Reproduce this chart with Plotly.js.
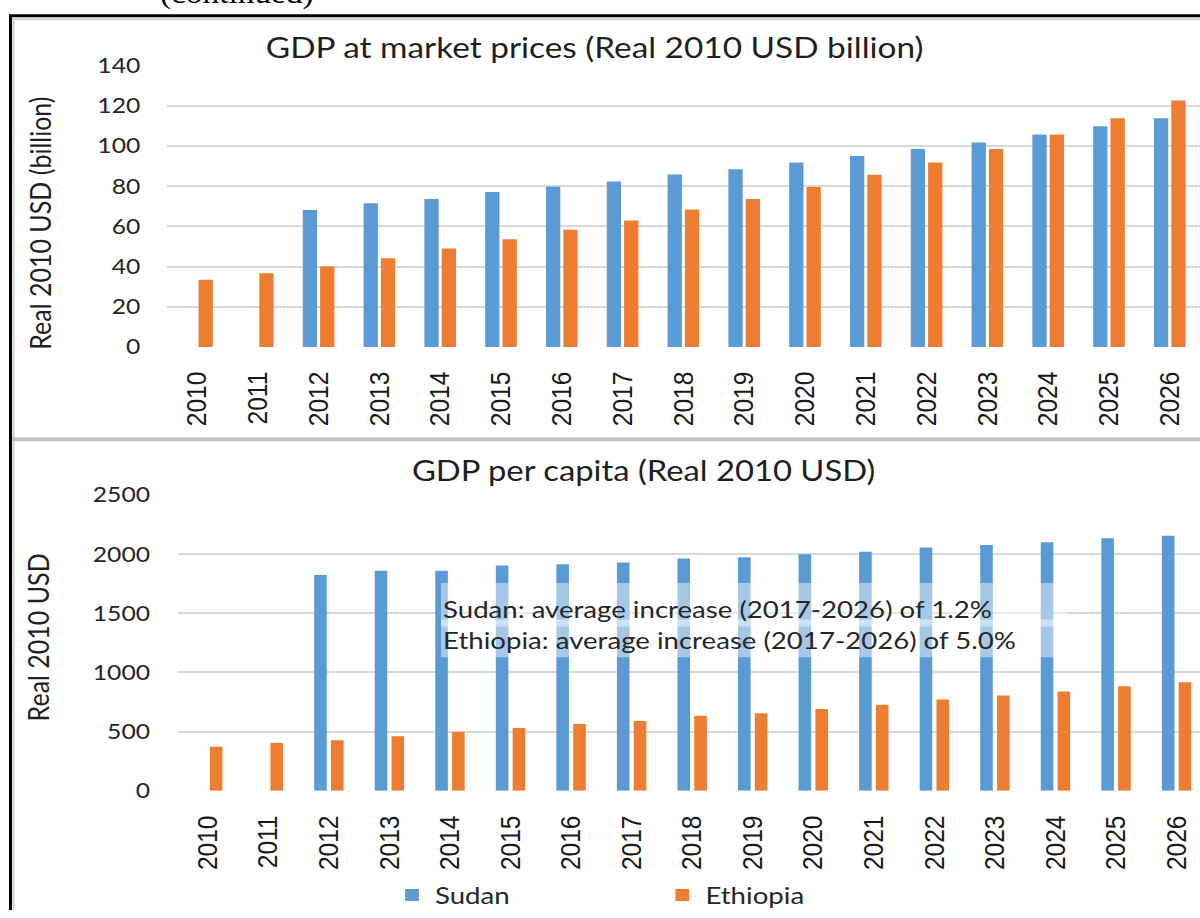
<!DOCTYPE html>
<html>
<head>
<meta charset="utf-8">
<script src="https://cdn.plot.ly/plotly-3.0.1.min.js"></script>
<style>
  html, body { margin: 0; padding: 0; background: #ffffff; overflow: hidden; }
  #wrap { width: 1200px; height: 918px; overflow: hidden; }
  /* the reference picture is horizontally stretched; reproduce that with a uniform x-scale */
  #chart { width: 1043px; height: 918px; transform: scaleX(1.15053); transform-origin: 0 0; }
</style>
</head>
<body>
<div id="wrap"><div id="chart"></div></div>
<script>
// ---- data ----
var years = [2010, 2011, 2012, 2013, 2014, 2015, 2016, 2017, 2018, 2019, 2020, 2021, 2022, 2023, 2024, 2025, 2026];
var yearLabels = ["2010","2011","2012","2013","2014","2015","2016","2017","2018","2019","2020","2021","2022","2023","2024","2025","2026"];
var sudanGdp    = [null, null, 68.1, 71.4, 73.6, 77.0, 79.7, 82.3, 85.8, 88.4, 91.7, 95.0, 98.4, 101.7, 105.7, 109.8, 113.7];
var ethiopiaGdp = [33.4, 36.7, 40.0, 44.1, 48.9, 53.5, 58.3, 62.9, 68.3, 73.6, 79.5, 85.6, 91.7, 98.4, 105.7, 113.7, 122.5];
var sudanPc     = [null, null, 1823, 1860, 1860, 1904, 1915, 1929, 1963, 1974, 1999, 2021, 2055, 2077, 2100, 2133, 2156];
var ethiopiaPc  = [372, 405, 427, 461, 497, 531, 564, 589, 634, 656, 690, 726, 771, 804, 838, 883, 916];
var seriesNames = ["Sudan", "Ethiopia"];
var titleTop = "GDP at market prices (Real 2010 USD billion)";
var titleBottom = "GDP per capita (Real 2010 USD)";
var yTitleTop = "Real 2010 USD (billion)";
var yTitleBottom = "Real 2010 USD";
var noteSudan = "Sudan: average increase (2017-2026) of 1.2%";
var noteEthiopia = "Ethiopia: average increase (2017-2026) of 5.0%";
var headerText = "(continued)";

// ---- styling ----
var W = 1200, H = 918;          // final picture size
var S = 1200 / 1043;            // horizontal stretch of the picture
var PW = 1043;                  // plot width before stretch
function px(x) { return x / W; }
function py(y) { return 1 - y / H; }
var BLUE = "#5B9BD5", ORANGE = "#ED7D31";
var FONT = "Lato, 'Open Sans', sans-serif";
var GRID = "#D9D9D9";

var traces = [
  { type: "bar", name: seriesNames[0], x: years, y: sudanGdp, xaxis: "x", yaxis: "y",
    marker: { color: BLUE }, width: 0.235, offset: -0.26, legendgroup: "s" },
  { type: "bar", name: seriesNames[1], x: years, y: ethiopiaGdp, xaxis: "x", yaxis: "y",
    marker: { color: ORANGE }, width: 0.235, offset: 0.025, legendgroup: "e" },
  { type: "bar", name: seriesNames[0], x: years, y: sudanPc, xaxis: "x2", yaxis: "y2",
    marker: { color: BLUE }, width: 0.208, offset: -0.243, legendgroup: "s", showlegend: false },
  { type: "bar", name: seriesNames[1], x: years, y: ethiopiaPc, xaxis: "x2", yaxis: "y2",
    marker: { color: ORANGE }, width: 0.208, offset: 0.035, legendgroup: "e", showlegend: false }
];

var xTickFont = { family: "'Liberation Sans', Arial, sans-serif", size: 24.5, color: "#1a1a1a" };
var yTickFont = { family: FONT, size: 21.5, color: "#262626" };

function xAxis(domain, range, anchor) {
  return {
    domain: domain, range: range, anchor: anchor, type: "linear",
    tickmode: "array", tickvals: years, ticktext: yearLabels, tickangle: -90,
    tickfont: xTickFont, ticks: "outside", ticklen: 14, tickcolor: "rgba(0,0,0,0)",
    showgrid: false, zeroline: false, showline: false, fixedrange: true, automargin: false
  };
}
function yAxis(domain, range, dtick, anchor, standoff) {
  return {
    domain: domain, range: range, anchor: anchor, dtick: dtick, tick0: 0,
    tickfont: yTickFont, ticks: "outside", ticklen: standoff, tickcolor: "rgba(0,0,0,0)",
    showgrid: true, gridcolor: GRID, gridwidth: 2, zeroline: false, showline: false,
    fixedrange: true, automargin: false
  };
}

var layout = {
  width: PW, height: H,
  margin: { l: 0, r: 0, t: 0, b: 0, pad: 0 },
  paper_bgcolor: "#ffffff", plot_bgcolor: "rgba(0,0,0,0)",
  font: { family: FONT, color: "#262626" },
  barmode: "group",
  xaxis: xAxis([px(166.6), 1], [2009.5, 2026.497], "y"),
  yaxis: yAxis([py(350), py(66)], [0, 140], 20, "x", 17.5),
  xaxis2: xAxis([px(177.5), 1], [2009.5, 2026.387], "y2"),
  yaxis2: yAxis([py(797.7), py(499.3)], [0, 2500], 500, "x2", 18.5),
  showlegend: true,
  legend: {
    orientation: "h", x: px(389), xanchor: "left", y: py(903.5), yanchor: "middle",
    font: { family: FONT, size: 24, color: "#262626" },
    entrywidth: 190, entrywidthmode: "pixels", bgcolor: "rgba(0,0,0,0)",
    traceorder: "normal"
  },
  annotations: [
    { text: headerText, xref: "paper", yref: "paper", x: px(237), y: py(12), xanchor: "center", yanchor: "bottom",
      showarrow: false, font: { family: "'Liberation Serif', 'Times New Roman', serif", size: 29, color: "#000" } },
    { text: titleTop, xref: "paper", yref: "paper", x: px(595), y: py(47), xanchor: "center", yanchor: "middle",
      showarrow: false, font: { family: FONT, size: 29, color: "#1f1f1f" } },
    { text: titleBottom, xref: "paper", yref: "paper", x: px(644), y: py(474), xanchor: "center", yanchor: "middle",
      showarrow: false, font: { family: FONT, size: 28.5, color: "#1f1f1f" } },
    { text: yTitleTop, xref: "paper", yref: "paper", x: px(40), y: py(225), xanchor: "center", yanchor: "middle",
      textangle: -90, showarrow: false, font: { family: FONT, size: 25, color: "#1f1f1f" } },
    { text: yTitleBottom, xref: "paper", yref: "paper", x: px(38), y: py(643), xanchor: "center", yanchor: "middle",
      textangle: -90, showarrow: false, font: { family: FONT, size: 25, color: "#1f1f1f" } },
    { text: noteSudan, xref: "paper", yref: "paper", x: px(441), y: py(614), xanchor: "left", yanchor: "middle",
      showarrow: false, font: { family: FONT, size: 24, color: "#262626" } },
    { text: noteEthiopia, xref: "paper", yref: "paper", x: px(441), y: py(645), xanchor: "left", yanchor: "middle",
      showarrow: false, font: { family: FONT, size: 24, color: "#262626" } }
  ],
  shapes: [
    // semi-transparent note boxes
    { type: "rect", xref: "paper", yref: "paper", x0: px(441), x1: px(1066), y0: py(632), y1: py(588),
      fillcolor: "rgba(255,255,255,0.45)", line: { width: 0 }, layer: "above" },
    { type: "rect", xref: "paper", yref: "paper", x0: px(441), x1: px(1066), y0: py(663), y1: py(625),
      fillcolor: "rgba(255,255,255,0.45)", line: { width: 0 }, layer: "above" },
    // outer frame (black) and inner chart frame (grey)
    { type: "line", xref: "paper", yref: "paper", x0: px(10.5), x1: px(10.5), y0: 0, y1: py(15), line: { color: "#000", width: 3 / S } },
    { type: "line", xref: "paper", yref: "paper", x0: px(9), x1: 1, y0: py(16), y1: py(16), line: { color: "#000", width: 3 } },
    { type: "line", xref: "paper", yref: "paper", x0: px(13.5), x1: px(13.5), y0: 0, y1: py(18), line: { color: "#D0D0D0", width: 2 / S } },
    { type: "line", xref: "paper", yref: "paper", x0: px(12), x1: 1, y0: py(19.5), y1: py(19.5), line: { color: "#D0D0D0", width: 2 } },
    // divider between the two charts
    { type: "line", xref: "paper", yref: "paper", x0: px(12), x1: 1, y0: py(443), y1: py(443), line: { color: "#C4C4C4", width: 4 } }
  ]
};

Plotly.newPlot("chart", traces, layout, { displayModeBar: false, staticPlot: true });
</script>
</body>
</html>
